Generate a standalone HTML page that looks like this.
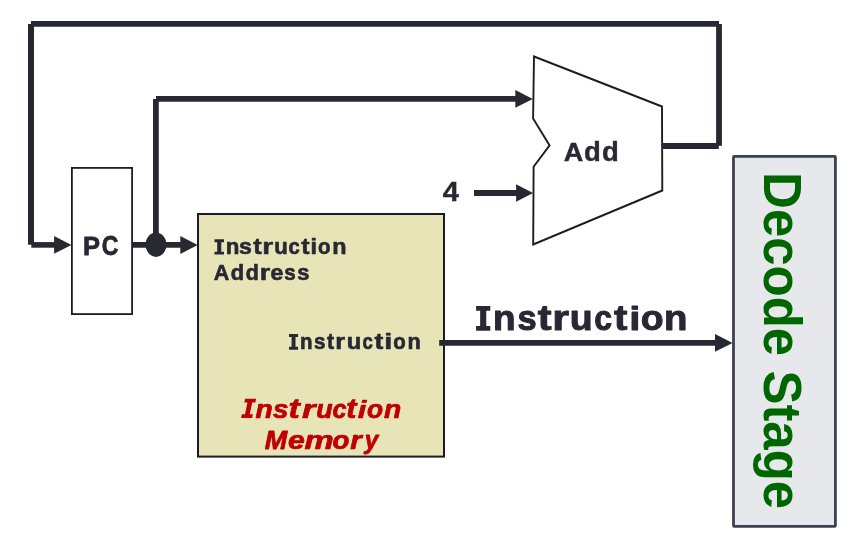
<!DOCTYPE html>
<html><head><meta charset="utf-8"><style>
html,body{margin:0;padding:0;background:#fff;width:867px;height:551px;overflow:hidden}
svg{position:absolute;left:0;top:0;display:block;will-change:transform}
text{font-family:"Liberation Sans",sans-serif}
</style></head><body>
<svg width="867" height="551" viewBox="0 0 867 551">
<rect x="0" y="0" width="867" height="551" fill="#fff"/>
<rect x="71.9" y="167.9" width="60.2" height="146.2" fill="#fff" stroke="#1c1c28" stroke-width="1.8"/>
<rect x="198" y="214" width="246" height="242.6" fill="#E7E4B8" stroke="#1c1c28" stroke-width="2"/>
<rect x="733.5" y="156.4" width="101.9" height="370.0" rx="0.7" fill="#E7E8EC" stroke="#3B4350" stroke-width="2.8"/>
<polygon points="534,56.5 662,106.5 662.3,190.5 533.2,244.5 533.6,166.7 549.6,145.4 533.1,118.5" fill="#fff" stroke="#1c1c28" stroke-width="1.9"/>
<g stroke="#282832" fill="none" stroke-linecap="butt">
<line x1="31" y1="23.9" x2="719" y2="23.9" stroke-width="5.8"/>
<line x1="31" y1="24" x2="31" y2="244.7" stroke-width="6"/>
<line x1="31.3" y1="244.9" x2="56" y2="244.9" stroke-width="5.6"/>
<line x1="719" y1="24" x2="719" y2="145.8" stroke-width="5.8"/>
<line x1="662" y1="146" x2="718.8" y2="146" stroke-width="5.8"/>
<line x1="155.9" y1="99" x2="155.9" y2="244.7" stroke-width="5.8"/>
<line x1="156" y1="98.85" x2="517" y2="98.85" stroke-width="5.6"/>
<line x1="133" y1="244.9" x2="182" y2="244.9" stroke-width="5.7"/>
<line x1="474" y1="193" x2="518" y2="193" stroke-width="5.8"/>
<line x1="439.2" y1="342.95" x2="717" y2="342.95" stroke-width="5.7"/>
</g>
<g fill="#282832">
<polygon points="54.1,236.1 71.4,244.9 54.1,253.8"/>
<polygon points="515.3,90.1 532.8,98.9 515.3,107.7"/>
<polygon points="180.3,236.1 197.6,245 180.3,254"/>
<polygon points="516.1,184.2 533.1,193 516.1,201.7"/>
<polygon points="715,334.1 732.6,343 715,351.8"/>
<ellipse cx="156" cy="244.7" rx="10.4" ry="12.2"/>
</g>
<path d="M476.10,330.70 L490.30,330.70 L490.30,326.02 L486.26,326.02 L486.26,310.73 L490.30,310.73 L490.30,306.05 L476.10,306.05 L476.10,310.73 L480.15,310.73 L480.15,326.02 L476.10,326.02Z" fill="#282834"/>
<text transform="translate(492.95,330.21) scale(0.3692,0.3433)" font-size="100" font-weight="bold" fill="#282834" stroke="#282834" stroke-width="0.986" vector-effect="non-scaling-stroke" stroke-linejoin="round">n</text>
<text transform="translate(517.58,330.21) scale(0.3444,0.3433)" font-size="100" font-weight="bold" fill="#282834" stroke="#282834" stroke-width="0.986" vector-effect="non-scaling-stroke" stroke-linejoin="round">s</text>
<text transform="translate(537.68,330.21) scale(0.4154,0.3476)" font-size="100" font-weight="bold" fill="#282834" stroke="#282834" stroke-width="0.986" vector-effect="non-scaling-stroke" stroke-linejoin="round">t</text>
<text transform="translate(552.35,330.21) scale(0.4317,0.3433)" font-size="100" font-weight="bold" fill="#282834" stroke="#282834" stroke-width="0.986" vector-effect="non-scaling-stroke" stroke-linejoin="round">r</text>
<text transform="translate(569.86,330.21) scale(0.3752,0.3499)" font-size="100" font-weight="bold" fill="#282834" stroke="#282834" stroke-width="0.986" vector-effect="non-scaling-stroke" stroke-linejoin="round">u</text>
<text transform="translate(594.15,330.21) scale(0.3199,0.3436)" font-size="100" font-weight="bold" fill="#282834" stroke="#282834" stroke-width="0.986" vector-effect="non-scaling-stroke" stroke-linejoin="round">c</text>
<text transform="translate(613.99,330.21) scale(0.4025,0.3476)" font-size="100" font-weight="bold" fill="#282834" stroke="#282834" stroke-width="0.986" vector-effect="non-scaling-stroke" stroke-linejoin="round">t</text>
<text transform="translate(629.27,330.21) scale(0.4030,0.3402)" font-size="100" font-weight="bold" fill="#282834" stroke="#282834" stroke-width="0.986" vector-effect="non-scaling-stroke" stroke-linejoin="round">i</text>
<text transform="translate(640.83,330.21) scale(0.3740,0.3436)" font-size="100" font-weight="bold" fill="#282834" stroke="#282834" stroke-width="0.986" vector-effect="non-scaling-stroke" stroke-linejoin="round">o</text>
<text transform="translate(664.06,330.21) scale(0.3835,0.3433)" font-size="100" font-weight="bold" fill="#282834" stroke="#282834" stroke-width="0.986" vector-effect="non-scaling-stroke" stroke-linejoin="round">n</text>
<path d="M214.50,254.60 L224.00,254.60 L224.00,251.67 L221.29,251.67 L221.29,242.13 L224.00,242.13 L224.00,239.20 L214.50,239.20 L214.50,242.13 L217.21,242.13 L217.21,251.67 L214.50,251.67Z" fill="#282834"/>
<text transform="translate(225.74,254.29) scale(0.2233,0.2145)" font-size="100" font-weight="bold" fill="#282834" stroke="#282834" stroke-width="0.616" vector-effect="non-scaling-stroke" stroke-linejoin="round">n</text>
<text transform="translate(238.90,254.29) scale(0.2309,0.2145)" font-size="100" font-weight="bold" fill="#282834" stroke="#282834" stroke-width="0.616" vector-effect="non-scaling-stroke" stroke-linejoin="round">s</text>
<text transform="translate(253.20,254.29) scale(0.2522,0.2172)" font-size="100" font-weight="bold" fill="#282834" stroke="#282834" stroke-width="0.616" vector-effect="non-scaling-stroke" stroke-linejoin="round">t</text>
<text transform="translate(262.15,254.29) scale(0.2819,0.2145)" font-size="100" font-weight="bold" fill="#282834" stroke="#282834" stroke-width="0.616" vector-effect="non-scaling-stroke" stroke-linejoin="round">r</text>
<text transform="translate(274.34,254.29) scale(0.2212,0.2186)" font-size="100" font-weight="bold" fill="#282834" stroke="#282834" stroke-width="0.616" vector-effect="non-scaling-stroke" stroke-linejoin="round">u</text>
<text transform="translate(288.62,254.29) scale(0.2026,0.2146)" font-size="100" font-weight="bold" fill="#282834" stroke="#282834" stroke-width="0.616" vector-effect="non-scaling-stroke" stroke-linejoin="round">c</text>
<text transform="translate(301.20,254.29) scale(0.2490,0.2172)" font-size="100" font-weight="bold" fill="#282834" stroke="#282834" stroke-width="0.616" vector-effect="non-scaling-stroke" stroke-linejoin="round">t</text>
<text transform="translate(310.49,254.29) scale(0.2321,0.2125)" font-size="100" font-weight="bold" fill="#282834" stroke="#282834" stroke-width="0.616" vector-effect="non-scaling-stroke" stroke-linejoin="round">i</text>
<text transform="translate(318.01,254.29) scale(0.2043,0.2146)" font-size="100" font-weight="bold" fill="#282834" stroke="#282834" stroke-width="0.616" vector-effect="non-scaling-stroke" stroke-linejoin="round">o</text>
<text transform="translate(332.17,254.29) scale(0.2337,0.2145)" font-size="100" font-weight="bold" fill="#282834" stroke="#282834" stroke-width="0.616" vector-effect="non-scaling-stroke" stroke-linejoin="round">n</text>
<path d="M289.00,349.70 L298.10,349.70 L298.10,346.74 L295.51,346.74 L295.51,337.06 L298.10,337.06 L298.10,334.10 L289.00,334.10 L289.00,337.06 L291.59,337.06 L291.59,346.74 L289.00,346.74Z" fill="#282834"/>
<text transform="translate(300.06,349.39) scale(0.2045,0.2172)" font-size="100" font-weight="bold" fill="#282834" stroke="#282834" stroke-width="0.624" vector-effect="non-scaling-stroke" stroke-linejoin="round">n</text>
<text transform="translate(314.09,349.39) scale(0.2058,0.2172)" font-size="100" font-weight="bold" fill="#282834" stroke="#282834" stroke-width="0.624" vector-effect="non-scaling-stroke" stroke-linejoin="round">s</text>
<text transform="translate(327.05,349.39) scale(0.2131,0.2200)" font-size="100" font-weight="bold" fill="#282834" stroke="#282834" stroke-width="0.624" vector-effect="non-scaling-stroke" stroke-linejoin="round">t</text>
<text transform="translate(335.35,349.39) scale(0.2524,0.2172)" font-size="100" font-weight="bold" fill="#282834" stroke="#282834" stroke-width="0.624" vector-effect="non-scaling-stroke" stroke-linejoin="round">r</text>
<text transform="translate(346.84,349.39) scale(0.2376,0.2215)" font-size="100" font-weight="bold" fill="#282834" stroke="#282834" stroke-width="0.624" vector-effect="non-scaling-stroke" stroke-linejoin="round">u</text>
<text transform="translate(362.49,349.39) scale(0.1861,0.2174)" font-size="100" font-weight="bold" fill="#282834" stroke="#282834" stroke-width="0.624" vector-effect="non-scaling-stroke" stroke-linejoin="round">c</text>
<text transform="translate(374.39,349.39) scale(0.2649,0.2200)" font-size="100" font-weight="bold" fill="#282834" stroke="#282834" stroke-width="0.624" vector-effect="non-scaling-stroke" stroke-linejoin="round">t</text>
<text transform="translate(384.29,349.39) scale(0.2898,0.2153)" font-size="100" font-weight="bold" fill="#282834" stroke="#282834" stroke-width="0.624" vector-effect="non-scaling-stroke" stroke-linejoin="round">i</text>
<text transform="translate(393.31,349.39) scale(0.2042,0.2174)" font-size="100" font-weight="bold" fill="#282834" stroke="#282834" stroke-width="0.624" vector-effect="non-scaling-stroke" stroke-linejoin="round">o</text>
<text transform="translate(407.48,349.39) scale(0.2169,0.2172)" font-size="100" font-weight="bold" fill="#282834" stroke="#282834" stroke-width="0.624" vector-effect="non-scaling-stroke" stroke-linejoin="round">n</text>
<text transform="translate(213.68,280.49) scale(0.2157,0.2191)" font-size="100" font-weight="bold" fill="#282834" stroke="#282834" stroke-width="0.628" vector-effect="non-scaling-stroke" stroke-linejoin="round">A</text>
<text transform="translate(230.71,280.49) scale(0.2197,0.2218)" font-size="100" font-weight="bold" fill="#282834" stroke="#282834" stroke-width="0.628" vector-effect="non-scaling-stroke" stroke-linejoin="round">d</text>
<text transform="translate(245.64,280.49) scale(0.2138,0.2218)" font-size="100" font-weight="bold" fill="#282834" stroke="#282834" stroke-width="0.628" vector-effect="non-scaling-stroke" stroke-linejoin="round">d</text>
<text transform="translate(259.84,280.49) scale(0.2685,0.2279)" font-size="100" font-weight="bold" fill="#282834" stroke="#282834" stroke-width="0.628" vector-effect="non-scaling-stroke" stroke-linejoin="round">r</text>
<text transform="translate(270.52,280.49) scale(0.2293,0.2281)" font-size="100" font-weight="bold" fill="#282834" stroke="#282834" stroke-width="0.628" vector-effect="non-scaling-stroke" stroke-linejoin="round">e</text>
<text transform="translate(284.29,280.49) scale(0.2057,0.2279)" font-size="100" font-weight="bold" fill="#282834" stroke="#282834" stroke-width="0.628" vector-effect="non-scaling-stroke" stroke-linejoin="round">s</text>
<text transform="translate(297.35,280.49) scale(0.2182,0.2279)" font-size="100" font-weight="bold" fill="#282834" stroke="#282834" stroke-width="0.628" vector-effect="non-scaling-stroke" stroke-linejoin="round">s</text>
<text transform="translate(83.07,254.52) scale(0.2552,0.2637)" font-size="100" font-weight="bold" fill="#282834" stroke="#282834" stroke-width="0.76" vector-effect="non-scaling-stroke" stroke-linejoin="round">P</text>
<text transform="translate(101.74,254.82) scale(0.2300,0.2684)" font-size="100" font-weight="bold" fill="#282834" stroke="#282834" stroke-width="0.76" vector-effect="non-scaling-stroke" stroke-linejoin="round">C</text>
<text transform="translate(563.85,160.68) scale(0.2705,0.2667)" font-size="100" font-weight="bold" fill="#282834" stroke="#282834" stroke-width="0.45" vector-effect="non-scaling-stroke" stroke-linejoin="round">A</text>
<text transform="translate(584.10,160.68) scale(0.2749,0.2684)" font-size="100" font-weight="bold" fill="#282834" stroke="#282834" stroke-width="0.45" vector-effect="non-scaling-stroke" stroke-linejoin="round">d</text>
<text transform="translate(602.00,160.68) scale(0.2749,0.2684)" font-size="100" font-weight="bold" fill="#282834" stroke="#282834" stroke-width="0.45" vector-effect="non-scaling-stroke" stroke-linejoin="round">d</text>
<text transform="translate(442.69,200.68) scale(0.2903,0.2682)" font-size="100" font-weight="bold" fill="#282834" stroke="#282834" stroke-width="0.45" vector-effect="non-scaling-stroke" stroke-linejoin="round">4</text>
<path d="M241.10,418.00 L252.13,418.00 L252.88,414.35 L249.74,414.35 L252.20,402.45 L255.34,402.45 L256.10,398.80 L245.07,398.80 L244.32,402.45 L247.46,402.45 L245.00,414.35 L241.86,414.35Z" fill="#C00000"/>
<text transform="translate(255.50,417.62) scale(0.2815,0.2517)" font-size="100" font-weight="bold" font-style="italic" fill="#C00000" stroke="#C00000" stroke-width="0.768" vector-effect="non-scaling-stroke" stroke-linejoin="round">n</text>
<text transform="translate(272.97,417.62) scale(0.2767,0.2522)" font-size="100" font-weight="bold" font-style="italic" fill="#C00000" stroke="#C00000" stroke-width="0.768" vector-effect="non-scaling-stroke" stroke-linejoin="round">s</text>
<text transform="translate(288.56,417.62) scale(0.3392,0.2672)" font-size="100" font-weight="bold" font-style="italic" fill="#C00000" stroke="#C00000" stroke-width="0.768" vector-effect="non-scaling-stroke" stroke-linejoin="round">t</text>
<text transform="translate(301.89,417.62) scale(0.3457,0.2515)" font-size="100" font-weight="bold" font-style="italic" fill="#C00000" stroke="#C00000" stroke-width="0.768" vector-effect="non-scaling-stroke" stroke-linejoin="round">r</text>
<text transform="translate(316.27,417.62) scale(0.2688,0.2561)" font-size="100" font-weight="bold" font-style="italic" fill="#C00000" stroke="#C00000" stroke-width="0.768" vector-effect="non-scaling-stroke" stroke-linejoin="round">u</text>
<text transform="translate(332.51,417.62) scale(0.2512,0.2515)" font-size="100" font-weight="bold" font-style="italic" fill="#C00000" stroke="#C00000" stroke-width="0.768" vector-effect="non-scaling-stroke" stroke-linejoin="round">c</text>
<text transform="translate(346.20,417.62) scale(0.3054,0.2672)" font-size="100" font-weight="bold" font-style="italic" fill="#C00000" stroke="#C00000" stroke-width="0.768" vector-effect="non-scaling-stroke" stroke-linejoin="round">t</text>
<text transform="translate(357.66,417.62) scale(0.3071,0.2475)" font-size="100" font-weight="bold" font-style="italic" fill="#C00000" stroke="#C00000" stroke-width="0.768" vector-effect="non-scaling-stroke" stroke-linejoin="round">i</text>
<text transform="translate(367.07,417.62) scale(0.2634,0.2517)" font-size="100" font-weight="bold" font-style="italic" fill="#C00000" stroke="#C00000" stroke-width="0.768" vector-effect="non-scaling-stroke" stroke-linejoin="round">o</text>
<text transform="translate(384.00,417.62) scale(0.2815,0.2517)" font-size="100" font-weight="bold" font-style="italic" fill="#C00000" stroke="#C00000" stroke-width="0.768" vector-effect="non-scaling-stroke" stroke-linejoin="round">n</text>
<text transform="translate(264.71,448.62) scale(0.2693,0.2665)" font-size="100" font-weight="bold" font-style="italic" fill="#C00000" stroke="#C00000" stroke-width="0.768" vector-effect="non-scaling-stroke" stroke-linejoin="round">M</text>
<text transform="translate(287.95,448.62) scale(0.3021,0.2496)" font-size="100" font-weight="bold" font-style="italic" fill="#C00000" stroke="#C00000" stroke-width="0.768" vector-effect="non-scaling-stroke" stroke-linejoin="round">e</text>
<text transform="translate(304.52,448.62) scale(0.3279,0.2499)" font-size="100" font-weight="bold" font-style="italic" fill="#C00000" stroke="#C00000" stroke-width="0.768" vector-effect="non-scaling-stroke" stroke-linejoin="round">m</text>
<text transform="translate(332.53,448.62) scale(0.2762,0.2499)" font-size="100" font-weight="bold" font-style="italic" fill="#C00000" stroke="#C00000" stroke-width="0.768" vector-effect="non-scaling-stroke" stroke-linejoin="round">o</text>
<text transform="translate(350.18,448.62) scale(0.2954,0.2496)" font-size="100" font-weight="bold" font-style="italic" fill="#C00000" stroke="#C00000" stroke-width="0.768" vector-effect="non-scaling-stroke" stroke-linejoin="round">r</text>
<text transform="translate(364.79,448.62) scale(0.2430,0.2542)" font-size="100" font-weight="bold" font-style="italic" fill="#C00000" stroke="#C00000" stroke-width="0.768" vector-effect="non-scaling-stroke" stroke-linejoin="round">y</text>
<text transform="translate(763.9,172.09) rotate(90) scale(0.9337,1)" font-size="54.6" font-weight="bold" fill="#006600">Decode Stage</text>
</svg>
</body></html>
